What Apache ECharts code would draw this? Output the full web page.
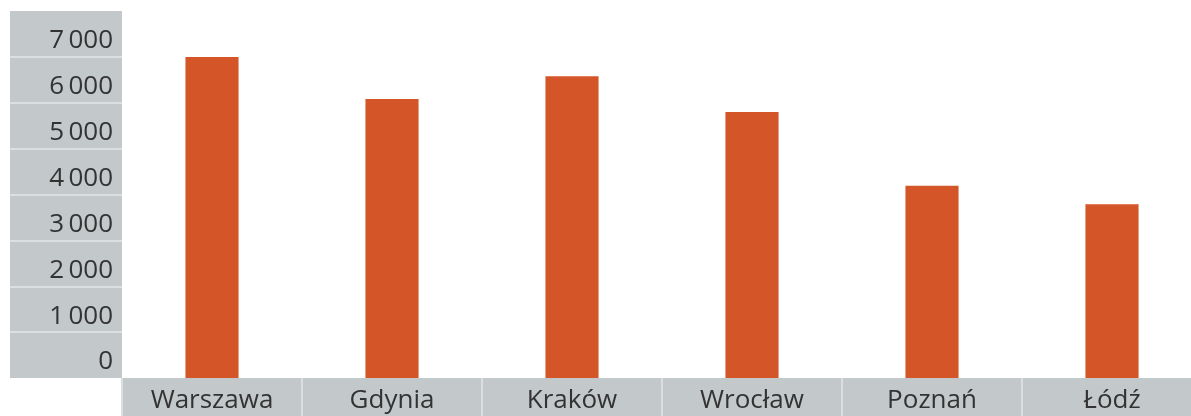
<!DOCTYPE html>
<html>
<head>
<meta charset="utf-8">
<script src="https://cdn.jsdelivr.net/npm/echarts@6/dist/echarts.min.js"></script>
<style>
  html, body { margin: 0; padding: 0; background: #ffffff; }
  #chart { width: 1191px; height: 416px; }
</style>
</head>
<body>
<div id="chart"></div>
<script>
// Cities and their values
const cities = ['Warszawa', 'Gdynia', 'Kraków', 'Wrocław', 'Poznań', 'Łódź'];
const values = [7000, 6080, 6580, 5800, 4190, 3790];

// Value scale
const axisMin = 0;
const axisMax = 8000;
const axisStep = 1000;

const panelGray = '#c3c8ca';
const panelLine = '#dcdfe0';
const barColor = '#d45628';
const textColor = '#333333';
const fontFamily = '"Open Sans", "DejaVu Sans", sans-serif';

// thousands separated by a thin space: 7 000
function fmt(v) {
  return String(v).replace(/\B(?=(\d{3})+(?!\d))/g, '\u2009');
}

const chart = echarts.init(document.getElementById('chart'), null, { renderer: 'canvas' });

chart.setOption({
  animation: false,
  backgroundColor: '#ffffff',
  grid: [
    // plot area with the bars (last column runs past the right edge)
    { left: 122, width: 1080, top: 11, bottom: 38, outerBoundsMode: 'none', containLabel: false },
    // grey value panel on the left
    { left: 10, width: 112, top: 11, bottom: 38, show: true, backgroundColor: panelGray, borderWidth: 0, outerBoundsMode: 'none' },
    // grey category band under the bars
    { left: 122, width: 1080, top: 378, bottom: 0, outerBoundsMode: 'none', containLabel: false }
  ],
  xAxis: [
    {
      gridIndex: 0, type: 'category', data: cities,
      axisLine: { show: false }, axisTick: { show: false }, axisLabel: { show: false }
    },
    {
      gridIndex: 1, type: 'value', show: false
    },
    {
      gridIndex: 2, type: 'category', data: cities, position: 'top',
      axisLine: { show: false }, axisTick: { show: false },
      splitArea: { show: true, areaStyle: { color: [panelGray, panelGray] } },
      splitLine: { show: true, lineStyle: { color: panelLine, width: 2 } },
      axisLabel: {
        inside: true, margin: 10, color: textColor,
        fontFamily: fontFamily, fontSize: 26
      }
    }
  ],
  yAxis: [
    {
      gridIndex: 0, type: 'value', min: axisMin, max: axisMax, interval: axisStep,
      show: false
    },
    {
      gridIndex: 1, type: 'value', min: axisMin, max: axisMax, interval: axisStep,
      position: 'right',
      axisLine: { show: false }, axisTick: { show: false },
      splitLine: { show: true, showMinLine: false, showMaxLine: false, lineStyle: { color: panelLine, width: 2 } },
      axisLabel: {
        inside: true, margin: 9, color: textColor,
        fontFamily: fontFamily, fontSize: 26,
        verticalAlign: 'bottom', lineHeight: 32,
        showMaxLabel: false,
        formatter: fmt
      }
    },
    {
      gridIndex: 2, type: 'value', show: false
    }
  ],
  series: [
    {
      type: 'bar',
      xAxisIndex: 0, yAxisIndex: 0,
      data: values,
      barWidth: '29.5%',
      itemStyle: { color: barColor }
    }
  ]
});
</script>
</body>
</html>
